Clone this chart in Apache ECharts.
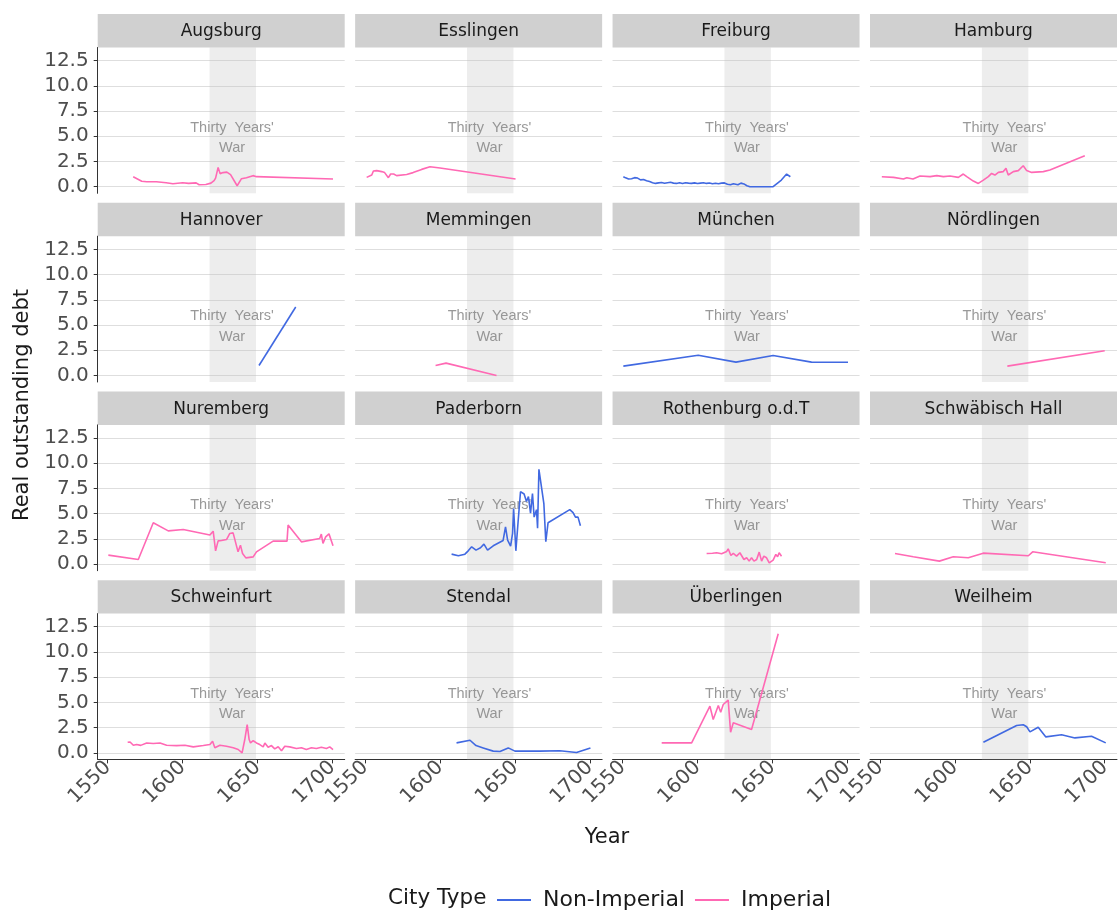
<!DOCTYPE html>
<html>
<head>
<meta charset="utf-8">
<script src="https://cdn.jsdelivr.net/npm/echarts@6/dist/echarts.min.js"></script>
<style>
  html, body { margin: 0; padding: 0; background: #ffffff; }
  #chart { width: 1120px; height: 914px; }
</style>
</head>
<body>
<div id="chart"></div>
<script>
// ---- data: real outstanding debt by city, [year, debt] ----
const cityNames = ['Augsburg', 'Esslingen', 'Freiburg', 'Hamburg',
  'Hannover', 'Memmingen', 'München', 'Nördlingen',
  'Nuremberg', 'Paderborn', 'Rothenburg o.d.T', 'Schwäbisch Hall',
  'Schweinfurt', 'Stendal', 'Überlingen', 'Weilheim'];

const cityTypes = ['Imperial', 'Imperial', 'Non-Imperial', 'Imperial',
  'Non-Imperial', 'Imperial', 'Non-Imperial', 'Imperial',
  'Imperial', 'Non-Imperial', 'Imperial', 'Imperial',
  'Imperial', 'Non-Imperial', 'Imperial', 'Non-Imperial'];

const augsburg = [[1567,0.99],[1572.7,0.55],[1576,0.5],[1582.5,0.5],[1589,0.4],[1593.5,0.3],[1600,0.4],
  [1604,0.33],[1609,0.38],[1611,0.2],[1615.5,0.22],[1618.9,0.36],[1621,0.6],[1622,0.86],[1623.7,1.92],
  [1625,1.3],[1627,1.4],[1629.5,1.45],[1632,1.2],[1636.4,0.1],[1639.3,0.8],[1642.6,0.9],[1647,1.1],
  [1649.3,1.0],[1700.4,0.76]];

const esslingen = [[1551,0.93],[1554.4,1.16],[1555.5,1.56],[1557.7,1.6],[1561,1.5],[1563,1.4],[1565.5,0.9],
  [1567,1.26],[1569,1.26],[1571,1.1],[1577.7,1.22],[1582,1.4],[1587.7,1.72],[1593.3,1.98],[1600,1.85],
  [1650.4,0.76]];

const freiburg = [[1550.5,0.99],[1552,0.88],[1554,0.76],[1556,0.8],[1558,0.9],[1560,0.86],[1562,0.68],
  [1564,0.72],[1566,0.6],[1568,0.52],[1570,0.4],[1572,0.33],[1574,0.38],[1576,0.42],[1578,0.35],
  [1580,0.4],[1582,0.44],[1584,0.36],[1586,0.33],[1588,0.39],[1590,0.32],[1592,0.4],[1594,0.36],
  [1596,0.33],[1598,0.38],[1600,0.32],[1602,0.36],[1604,0.4],[1606,0.33],[1608,0.37],[1610,0.3],
  [1612,0.34],[1614,0.3],[1616,0.36],[1618,0.38],[1620,0.25],[1622,0.2],[1624,0.3],[1625,0.38],
  [1627,0.2],[1629,0.36],[1631,0.28],[1633,0.1],[1635,0.0],[1640,0.0],[1645,0.0],[1650.5,0.0],
  [1656,0.66],[1659.5,1.26],[1662,0.99]];

const hamburg = [[1551.2,0.99],[1559,0.93],[1565.6,0.76],[1567.9,0.9],[1572,0.76],[1576.7,1.06],
  [1583.4,1.0],[1587.9,1.1],[1592.3,1.0],[1596.7,1.06],[1602.3,0.93],[1605.6,1.26],[1607.9,1.0],
  [1612.3,0.56],[1615.6,0.33],[1619,0.66],[1622.3,1.0],[1624.5,1.32],[1626.7,1.16],[1629,1.42],
  [1632.3,1.5],[1634.1,1.82],[1635.6,1.16],[1639,1.5],[1642.3,1.6],[1645.6,2.08],[1647.9,1.6],
  [1651.2,1.42],[1659,1.5],[1663.4,1.65],[1686.7,3.08]];

const hannover = [[1651,0.99],[1675.5,6.78]];

const memmingen = [[1597,0.99],[1604,1.22],[1637.7,0.0]];

const muenchen = [[1550.5,0.92],[1600.5,2.0],[1625.7,1.32],[1650.5,1.98],[1676.1,1.32],[1700.5,1.3]];

const noerdlingen = [[1635,0.92],[1700,2.45]];

const nuremberg = [[1550.4,0.89],[1570.4,0.46],[1580.4,4.1],[1590.4,3.3],[1600.4,3.44],[1618.2,2.88],
  [1620.4,3.27],[1622,1.32],[1623.7,2.31],[1626,2.34],[1629.3,2.44],[1631.5,3.04],[1633.7,3.1],
  [1637,1.22],[1638.6,1.88],[1640,1.06],[1642.2,0.62],[1647.1,0.72],[1649.3,1.22],[1660.4,2.28],
  [1669.7,2.28],[1670.4,3.87],[1679.3,2.21],[1691.5,2.54],[1692.6,2.98],[1693.7,2.05],[1695.5,2.7],
  [1697.7,3.0],[1700.4,1.82]];

const paderborn = [[1607.7,0.99],[1612.2,0.83],[1616.6,0.99],[1618.8,1.32],[1621.1,1.72],[1624,1.39],
  [1627,1.62],[1629.3,1.98],[1630.6,1.98],[1631.7,1.39],[1635.5,1.82],[1642.1,2.35],[1643.7,3.7],
  [1645.1,2.38],[1647.1,1.79],[1648.4,3.04],[1649.1,5.52],[1650.6,1.32],[1652.1,4.2],[1653.7,7.18],
  [1656.1,6.95],[1657.7,6.2],[1659,6.7],[1660.4,5.05],[1661.7,7.0],[1662.8,4.66],[1664.4,5.4],
  [1665.1,3.57],[1666,9.4],[1669.3,6.0],[1670.6,2.22],[1672.1,4.1],[1686.6,5.4],[1688.8,5.1],
  [1690.4,4.66],[1692.1,4.66],[1693.7,3.8]];

const rothenburg = [[1606.1,1.06],[1607.2,1.0],[1610,1.08],[1612.8,1.13],[1616.1,1.03],[1619.5,1.26],
  [1620.5,1.52],[1622.3,0.86],[1623.9,1.06],[1626.1,0.79],[1628.3,1.13],[1631,0.46],[1632.8,0.63],
  [1634.5,0.3],[1636.1,0.63],[1637.7,0.3],[1639.5,0.46],[1641.2,1.19],[1642.8,0.3],[1644.3,0.79],
  [1646.1,0.63],[1647.9,0.13],[1650.5,0.4],[1652.3,0.96],[1653.5,0.73],[1654.5,1.13],[1656.1,0.79]];

const schwaebischHall = [[1560,1.06],[1572.2,0.73],[1589.6,0.3],[1598.9,0.73],[1608.9,0.63],[1618.9,1.09],
  [1649,0.83],[1651.9,1.22],[1700.7,0.13]];

const schweinfurt = [[1563.3,1.05],[1564.9,1.08],[1567.1,0.75],[1569.3,0.82],[1572,0.74],[1576,0.98],
  [1580.4,0.92],[1584.9,0.98],[1589.3,0.75],[1596,0.72],[1601.5,0.75],[1607.1,0.59],[1613.8,0.72],
  [1618.2,0.82],[1620,1.15],[1621.5,0.5],[1624.9,0.75],[1629.3,0.66],[1633.8,0.5],[1637.1,0.33],
  [1639.7,0.0],[1641.5,1.32],[1643.1,2.8],[1644.4,1.32],[1645.3,0.98],[1647.1,1.2],[1649.3,0.98],
  [1651.5,0.82],[1653.8,0.59],[1654.9,0.98],[1657.1,0.56],[1659.3,0.72],[1661.5,0.39],[1663.8,0.6],
  [1666,0.2],[1668.2,0.66],[1671.5,0.59],[1676,0.43],[1679.3,0.5],[1682.6,0.33],[1686,0.5],
  [1689.3,0.43],[1692.6,0.56],[1696,0.43],[1698.2,0.59],[1700.4,0.33]];

const stendal = [[1611,0.99],[1620,1.25],[1624,0.72],[1628.8,0.49],[1635.5,0.17],[1640,0.13],
  [1645.5,0.49],[1650,0.17],[1666.6,0.17],[1679.9,0.2],[1691.1,0.03],[1700.4,0.49]];

const ueberlingen = [[1576.1,0.99],[1596.1,0.99],[1608.3,4.62],[1610.5,3.3],[1613.9,4.69],[1615.5,4.03],
  [1617.2,4.79],[1620.5,5.22],[1622.1,2.05],[1623.9,2.98],[1636.1,2.31],[1653.9,11.8]];

const weilheim = [[1619,1.05],[1641.2,2.71],[1645.6,2.78],[1647.9,2.58],[1650.1,2.08],[1655.6,2.54],
  [1660.7,1.58],[1671.2,1.8],[1680.1,1.48],[1691.2,1.65],[1700.7,0.99]];

const cityData = [augsburg, esslingen, freiburg, hamburg, hannover, memmingen, muenchen, noerdlingen,
  nuremberg, paderborn, rothenburg, schwaebischHall, schweinfurt, stendal, ueberlingen, weilheim];

const xTicks = [1550, 1600, 1650, 1700];
const yTicks = [0, 2.5, 5, 7.5, 10, 12.5];
const warYears = [1618, 1649];
const warLabelAt = [1633, 4.83];
const legendNames = ['Non-Imperial', 'Imperial'];

// ---- layout of the 4 x 4 facet grid ----
const NCOL = 4;
const PANEL_LEFT = 97.7, PANEL_PITCH_X = 257.43, PANEL_W = 247;
const PANEL_TOP = 47.5, PANEL_PITCH_Y = 188.7, PANEL_H = 145.8, STRIP_H = 33.4;
const X_RANGE = [1543.3, 1708.2];
const Y_RANGE = [-0.65, 13.8];

const typeColor = { 'Non-Imperial': '#4169E1', 'Imperial': '#FF69B4' };
const UI_FONT = '"DejaVu Sans", sans-serif';
const NOTE_FONT = '"Liberation Sans", Arial, sans-serif';

const grids = [], xAxes = [], yAxes = [], series = [], graphics = [];

cityNames.forEach((name, i) => {
  const col = i % NCOL, row = Math.floor(i / NCOL);
  const left = PANEL_LEFT + col * PANEL_PITCH_X;
  const top = PANEL_TOP + row * PANEL_PITCH_Y;
  const isBottom = row === 3, isLeft = col === 0;

  grids.push({ left: left, top: top, width: PANEL_W, height: PANEL_H,
    containLabel: false, outerBoundsMode: 'none' });

  xAxes.push({
    type: 'value', gridIndex: i, min: X_RANGE[0], max: X_RANGE[1],
    splitLine: { show: false },
    axisLine: { show: isBottom, onZero: false, lineStyle: { color: '#333333', width: 1 } },
    axisTick: { show: isBottom, length: 4, customValues: xTicks, lineStyle: { color: '#333333' } },
    axisLabel: { show: isBottom, customValues: xTicks, rotate: 45, margin: 5,
      formatter: v => String(v),
      fontFamily: UI_FONT, fontSize: 20, color: '#4d4d4d' }
  });

  yAxes.push({
    type: 'value', gridIndex: i, min: Y_RANGE[0], max: Y_RANGE[1],
    splitLine: { show: true, lineStyle: { color: '#dedede', width: 1.2 } },
    axisLine: { show: isLeft, onZero: false, lineStyle: { color: '#333333', width: 1 } },
    axisTick: { show: isLeft, length: 4, customValues: yTicks, lineStyle: { color: '#333333' } },
    axisLabel: { show: isLeft, customValues: yTicks, margin: 9,
      formatter: v => v.toFixed(1),
      fontFamily: UI_FONT, fontSize: 20, color: '#4d4d4d' }
  });

  // war period band and its caption
  series.push({
    type: 'scatter', name: 'war-' + i, xAxisIndex: i, yAxisIndex: i, z: 1,
    silent: true, symbolSize: 1, itemStyle: { color: 'rgba(0,0,0,0)' },
    data: [warLabelAt],
    label: { show: true, position: 'inside', formatter: "Thirty  Years'\nWar",
      fontFamily: NOTE_FONT, fontSize: 14.5, lineHeight: 20.6, color: '#808080' },
    markArea: { silent: true, itemStyle: { color: 'rgba(190,190,190,0.28)' },
      data: [[{ xAxis: warYears[0] }, { xAxis: warYears[1] }]] }
  });

  series.push({
    type: 'line', name: cityTypes[i], xAxisIndex: i, yAxisIndex: i, z: 3,
    data: cityData[i], showSymbol: false, symbol: 'none',
    lineStyle: { color: typeColor[cityTypes[i]], width: 1.6 },
    itemStyle: { color: typeColor[cityTypes[i]] }
  });

  // facet strip
  graphics.push({
    type: 'rect', silent: true,
    shape: { x: left, y: top - STRIP_H, width: PANEL_W, height: STRIP_H },
    style: { fill: '#d0d0d0' }
  });
  graphics.push({
    type: 'text', silent: true, x: left + PANEL_W / 2, y: top - STRIP_H / 2 + 1,
    style: { text: name, fill: '#1a1a1a', font: '17px ' + UI_FONT,
      textAlign: 'center', textVerticalAlign: 'middle' }
  });
});

// axis titles and legend title
graphics.push({
  type: 'text', silent: true, x: 607, y: 838,
  style: { text: 'Year', fill: '#1a1a1a', font: '21px ' + UI_FONT,
    textAlign: 'center', textVerticalAlign: 'middle' }
});
graphics.push({
  type: 'text', silent: true, x: 23, y: 405, rotation: Math.PI / 2,
  style: { text: 'Real outstanding debt', fill: '#1a1a1a', font: '21px ' + UI_FONT,
    textAlign: 'center', textVerticalAlign: 'middle' }
});
graphics.push({
  type: 'text', silent: true, x: 388, y: 898,
  style: { text: 'City Type', fill: '#1a1a1a', font: '21.5px ' + UI_FONT,
    textAlign: 'left', textVerticalAlign: 'middle' }
});

const chart = echarts.init(document.getElementById('chart'), null, { renderer: 'canvas' });
chart.setOption({
  animation: false,
  backgroundColor: '#ffffff',
  grid: grids,
  xAxis: xAxes,
  yAxis: yAxes,
  series: series,
  graphic: { elements: graphics },
  legend: {
    data: legendNames.map(n => ({ name: n, icon: 'rect' })),
    left: 492, top: 884, itemWidth: 34, itemHeight: 2, itemGap: 10,
    selectedMode: false,
    textStyle: { fontFamily: UI_FONT, fontSize: 22, color: '#1a1a1a', padding: [0, 0, 0, 7] }
  },
  tooltip: { show: false }
});
</script>
</body>
</html>
